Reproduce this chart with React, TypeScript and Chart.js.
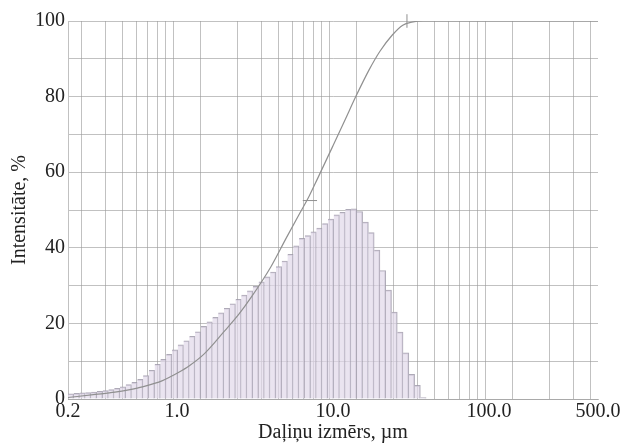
import { useEffect, useRef } from 'react';
import { Chart, registerables } from 'chart.js';

Chart.register(...registerables);

// Histogram bin centres (µm) and intensities (%)
const BIN_CENTERS = [
  0.2087, 0.2273, 0.2475, 0.2695, 0.2935, 0.3197, 0.3481, 0.3791, 0.4129, 0.4496,
  0.4896, 0.5332, 0.5807, 0.6324, 0.6887, 0.75, 0.8168, 0.8895, 0.9686, 1.055,
  1.149, 1.251, 1.362, 1.484, 1.616, 1.76, 1.916, 2.087, 2.273, 2.475,
  2.695, 2.935, 3.197, 3.481, 3.791, 4.129, 4.496, 4.896, 5.332, 5.807,
  6.324, 6.887, 7.5, 8.168, 8.895, 9.686, 10.55, 11.49, 12.51, 13.62,
  14.84, 16.16, 17.6, 19.16, 20.87, 22.73, 24.75, 26.95, 29.35, 31.97,
  34.81, 37.91,
];
const BIN_VALUES = [
  1.4, 1.5, 1.6, 1.7, 1.8, 2.0, 2.2, 2.5, 2.8, 3.2,
  3.8, 4.4, 5.2, 6.2, 7.6, 9.2, 10.5, 11.8, 13.0, 14.3,
  15.4, 16.6, 17.8, 19.2, 20.4, 21.6, 22.8, 24.0, 25.2, 26.4,
  27.5, 28.6, 29.8, 31.0, 32.3, 33.6, 35.0, 36.5, 38.3, 40.5,
  42.5, 43.2, 44.2, 45.2, 46.4, 47.6, 48.7, 49.4, 50.2, 50.3,
  49.6, 46.8, 44.0, 39.4, 34.0, 28.8, 23.0, 17.7, 12.2, 6.5,
  3.6, 0.4,
];

// Cumulative curve (µm, %)
const CUM_SIZES = [0.2, 0.3, 0.4, 0.5, 0.6, 0.7, 0.8, 0.9, 1.0, 1.2, 1.5, 2.0, 2.5, 3.0, 4.0, 5.0, 6.0, 7.0, 8.0, 10, 12, 14, 17, 20, 24, 28, 32, 38, 500];
const CUM_VALUES = [0.4, 1.2, 1.8, 2.5, 3.2, 4.0, 4.8, 5.8, 6.8, 8.8, 12, 17.8, 22.5, 27, 35, 42.5, 48.5, 53.5, 58.5, 67, 74, 80, 87, 92, 96.3, 98.9, 99.7, 100, 100];

// Small markers on the curve
const D50_MARK_X = [6.4, 7.9];
const D50_MARK_Y = [52.5, 52.5];
const TOP_MARK_X = [29.8, 29.8];
const TOP_MARK_Y = [98.2, 101.8];

// Axis ticks
const X_GRID = [
  0.2, 0.3, 0.4, 0.5, 0.6, 0.7, 0.8, 0.9,
  1, 2, 3, 4, 5, 6, 7, 8, 9,
  10, 20, 30, 40, 50, 60, 70, 80, 90,
  100, 200, 300, 400, 500,
];
const X_MAJOR = [0.2, 1, 10, 100, 500];
const X_MAJOR_LABELS = ['0.2', '1.0', '10.0', '100.0', '500.0'];
const Y_LABELS = [0, 20, 40, 60, 80, 100];

const FONT = "'Liberation Serif', 'Times New Roman', serif";
const GRID = 'rgba(155,155,155,0.62)';
const TEXT = '#222';

export default function App() {
  const ref = useRef<HTMLCanvasElement>(null);

  useEffect(() => {
    const canvas = ref.current;
    if (!canvas) return;
    const chart = new Chart(canvas, {
      type: 'bar',
      data: {
        datasets: [
          {
            type: 'line',
            data: CUM_SIZES.map((x, i) => ({ x, y: CUM_VALUES[i] })),
            borderColor: '#909090',
            borderWidth: 1.2,
            pointRadius: 0,
            tension: 0.4,
            cubicInterpolationMode: 'monotone',
            fill: false,
            order: 0,
          } as any,
          {
            type: 'line',
            data: D50_MARK_X.map((x, i) => ({ x, y: D50_MARK_Y[i] })),
            borderColor: '#909090',
            borderWidth: 1,
            pointRadius: 0,
            order: 0,
          } as any,
          {
            type: 'line',
            data: TOP_MARK_X.map((x, i) => ({ x, y: TOP_MARK_Y[i] })),
            borderColor: '#909090',
            borderWidth: 1,
            pointRadius: 0,
            clip: false,
            order: 0,
          } as any,
          {
            type: 'bar',
            data: BIN_CENTERS.map((x, i) => ({ x, y: BIN_VALUES[i] })),
            backgroundColor: 'rgba(225,217,234,0.7)',
            borderColor: 'rgba(160,155,170,0.85)',
            borderWidth: { top: 1, right: 1, left: 0, bottom: 0 },
            borderSkipped: false,
            barPercentage: 1,
            categoryPercentage: 1,
            grouped: false,
            order: 1,
          } as any,
        ],
      },
      options: {
        responsive: false,
        animation: false,
        devicePixelRatio: 1,
        layout: {
          padding: { top: 21, right: 26, left: 0, bottom: 0 },
          autoPadding: false,
        } as any,
        plugins: {
          legend: { display: false },
          tooltip: { enabled: false },
        },
        scales: {
          x: {
            type: 'logarithmic',
            min: 0.2,
            max: 500,
            afterBuildTicks: (scale: any) => {
              scale.ticks = X_GRID.map((v) => ({ value: v }));
            },
            afterFit: (scale: any) => {
              scale.height = 46;
            },
            grid: { color: GRID, lineWidth: 1, drawTicks: false },
            border: { display: true, color: GRID },
            ticks: {
              autoSkip: false,
              maxRotation: 0,
              minRotation: 0,
              padding: 1,
              color: TEXT,
              font: { family: FONT, size: 20 },
              callback: (value: any) => {
                const v = Number(value);
                const idx = X_MAJOR.findIndex((m) => Math.abs(m - v) / m < 1e-6);
                return idx >= 0 ? X_MAJOR_LABELS[idx] : '';
              },
            },
            title: {
              display: true,
              text: 'Daļiņu izmērs, µm',
              color: TEXT,
              font: { family: FONT, size: 20 },
              padding: { top: 0, bottom: 0 },
            },
          },
          y: {
            type: 'linear',
            min: 0,
            max: 100,
            afterFit: (scale: any) => {
              scale.width = 68;
            },
            grid: { color: GRID, lineWidth: 1, drawTicks: false },
            border: { display: true, color: GRID },
            ticks: {
              stepSize: 10,
              padding: 3,
              color: TEXT,
              font: { family: FONT, size: 20 },
              callback: (value: any) => (Y_LABELS.includes(Number(value)) ? String(value) : ''),
            },
            title: {
              display: true,
              text: 'Intensitāte, %',
              color: TEXT,
              font: { family: FONT, size: 20 },
              padding: { top: 8, bottom: 0 },
            },
          },
        },
      } as any,
    });
    return () => chart.destroy();
  }, []);

  return (
    <div style={{ position: 'fixed', left: 0, top: 0, width: 624, height: 445, background: '#fff' }}>
      <canvas ref={ref} width={624} height={445} style={{ display: 'block', width: 624, height: 445 }} />
    </div>
  );
}
